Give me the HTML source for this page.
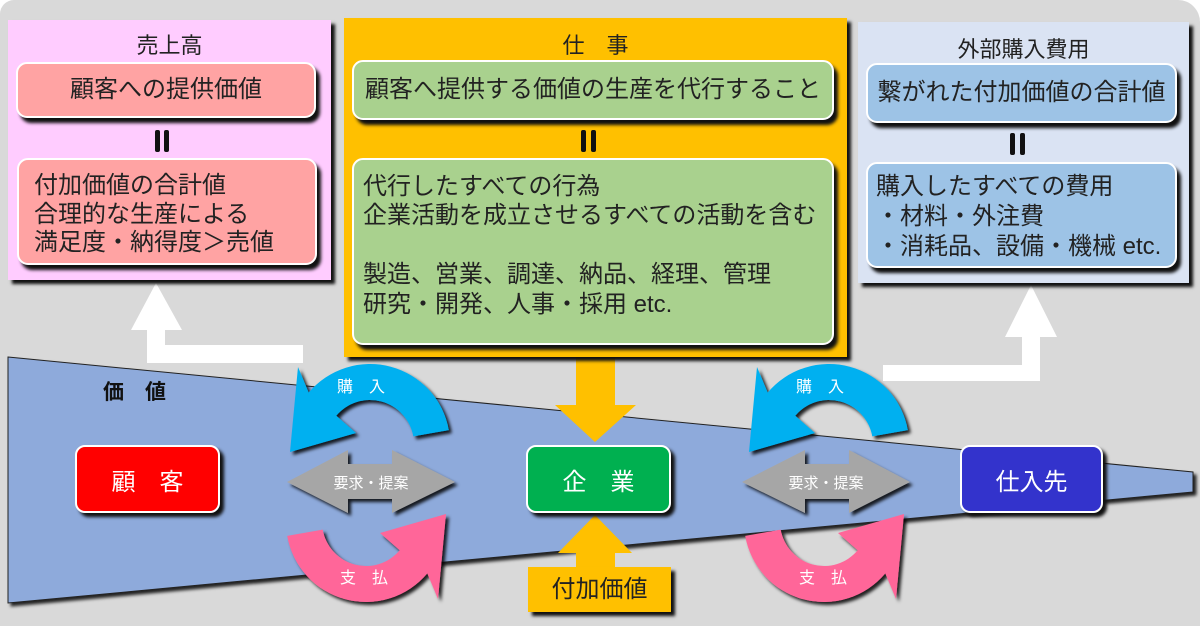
<!DOCTYPE html>
<html><head><meta charset="utf-8"><style>
body{margin:0;width:1200px;height:626px;overflow:hidden;background:#fff;font-family:"Liberation Sans","Noto Sans CJK JP",sans-serif;}
#bg{position:absolute;left:0;top:0;width:1200px;height:626px;background:#d9d9d9;border-top-right-radius:22px;border-top-left-radius:14px;}
.abs{position:absolute;}
.panel{position:absolute;box-shadow:4px 4px 3px #111;}
.title{position:absolute;left:0;right:0;text-align:center;font-size:22px;color:#222;}
.box{position:absolute;border:2px solid #fff;border-radius:11px;box-shadow:4px 5px 3px #111;box-sizing:border-box;color:#222;font-size:24px;}
.eq{position:absolute;width:5px;height:22px;background:#111;border-radius:2px;}
.line{position:absolute;white-space:nowrap;font-size:24px;line-height:28px;color:#222;}
.node{position:absolute;border:2px solid #fff;border-radius:10px;box-shadow:4px 4px 3px #111;box-sizing:border-box;color:#fff;font-size:24px;display:flex;align-items:center;justify-content:center;}
svg{position:absolute;left:0;top:0;}
</style></head><body>
<div id="bg"></div>
<svg width="1200" height="626">
<defs><filter id="sh" x="-20%" y="-20%" width="140%" height="140%"><feDropShadow dx="3" dy="3" stdDeviation="1.5" flood-color="#000" flood-opacity="0.85"/></filter></defs>
<polygon points="8,357 1193,472 1193,492 8,603" fill="#8eaadb" stroke="#222" stroke-width="1" filter="url(#sh)"/>
<polygon points="303,345 303,363 147,363 147,330 131,330 156,283 182,330 165,330 165,345" fill="#fff"/>
<polygon points="883,365 883,381 1040,381 1040,337 1057,337 1031,285 1005,337 1022,337 1022,365" fill="#fff"/>
<polygon points="576,355 615,355 615,405 636,405 595,442 555,405 576,405" fill="#ffc000"/>
<polygon points="576,570 615,570 615,553 632,553 595,515 558,553 576,553" fill="#ffc000"/>
<g fill="#a6a6a6" filter="url(#sh)">
<polygon points="287,482 348,450 348,464 392,464 392,450 455,482 392,513 392,499 348,499 348,513"/>
<polygon points="742,482 805,450 805,464 849,464 849,450 910,482 849,513 849,499 805,499 805,513"/>
</g>
<g filter="url(#sh)">
<path d="M448.8 430.1 A80 80 0 0 0 308.7 392.6 L298 367 L290 452 L356 433 L336.3 415.7 A44 44 0 0 1 413.3 436.4 Z" fill="#00b0f0"/>
<path d="M448.8 430.1 A80 80 0 0 0 308.7 392.6 L298 367 L290 452 L356 433 L336.3 415.7 A44 44 0 0 1 413.3 436.4 Z" fill="#00b0f0" transform="translate(459,0)"/>
<path d="M448.8 430.1 A80 80 0 0 0 308.7 392.6 L298 367 L290 452 L356 433 L336.3 415.7 A44 44 0 0 1 413.3 436.4 Z" fill="#ff6699" transform="rotate(180 368 483)"/>
<path d="M448.8 430.1 A80 80 0 0 0 308.7 392.6 L298 367 L290 452 L356 433 L336.3 415.7 A44 44 0 0 1 413.3 436.4 Z" fill="#ff6699" transform="translate(458,0) rotate(180 368 483)"/>
</g>
<g fill="#fff" font-size="16" font-family="Liberation Sans,Noto Sans CJK JP,sans-serif">
<text x="337" y="392">購　入</text>
<text x="796" y="392">購　入</text>
<text x="340" y="583">支　払</text>
<text x="799" y="583">支　払</text>
<text x="371" y="488" text-anchor="middle" font-size="15">要求・提案</text>
<text x="826" y="488" text-anchor="middle" font-size="15">要求・提案</text>
</g>
<text x="103" y="399" font-size="21" font-weight="bold" fill="#111" font-family="Liberation Sans,Noto Sans CJK JP,sans-serif">価　値</text>
</svg>

<div class="panel" style="left:8px;top:20px;width:323px;height:260px;background:#ffccff;">
<div class="title" style="top:8px;">売上高</div>
</div>
<div class="box" style="left:16px;top:62px;width:300px;height:56px;background:#ffa3a3;text-align:center;line-height:52px;">顧客への提供価値</div>
<div class="eq" style="left:155px;top:130px;"></div><div class="eq" style="left:164px;top:130px;"></div>
<div class="box" style="left:17px;top:158px;width:300px;height:107px;background:#ffa3a3;"></div>
<div class="line" style="left:34px;top:172px;">付加価値の合計値</div>
<div class="line" style="left:34px;top:201px;">合理的な生産による</div>
<div class="line" style="left:34px;top:229px;">満足度・納得度＞売値</div>

<div class="panel" style="left:344px;top:18px;width:503px;height:339px;background:#ffc000;">
<div class="title" style="top:10px;">仕　事</div>
</div>
<div class="box" style="left:352px;top:60px;width:482px;height:60px;background:#a9d18e;text-align:center;line-height:56px;">顧客へ提供する価値の生産を代行すること</div>
<div class="eq" style="left:581px;top:130px;"></div><div class="eq" style="left:591px;top:130px;"></div>
<div class="box" style="left:352px;top:158px;width:482px;height:187px;background:#a9d18e;"></div>
<div class="line" style="left:363px;top:173px;">代行したすべての行為</div>
<div class="line" style="left:363px;top:202px;">企業活動を成立させるすべての活動を含む</div>
<div class="line" style="left:363px;top:261px;">製造、営業、調達、納品、経理、管理</div>
<div class="line" style="left:363px;top:291px;">研究・開発、人事・採用 etc.</div>

<div class="panel" style="left:858px;top:22px;width:331px;height:261px;background:#dae3f3;">
<div class="title" style="top:10px;">外部購入費用</div>
</div>
<div class="box" style="left:866px;top:63px;width:311px;height:60px;background:#9dc3e6;text-align:center;line-height:56px;">繋がれた付加価値の合計値</div>
<div class="eq" style="left:1010px;top:133px;"></div><div class="eq" style="left:1020px;top:133px;"></div>
<div class="box" style="left:866px;top:162px;width:311px;height:106px;background:#9dc3e6;"></div>
<div class="line" style="left:876px;top:173px;">購入したすべての費用</div>
<div class="line" style="left:876px;top:203px;">・材料・外注費</div>
<div class="line" style="left:876px;top:233px;">・消耗品、設備・機械 etc.</div>

<div class="node" style="left:75px;top:445px;width:145px;height:68px;background:#ff0000;">顧　客</div>
<div class="node" style="left:526px;top:445px;width:145px;height:68px;background:#00b050;">企　業</div>
<div class="node" style="left:960px;top:445px;width:143px;height:68px;background:#3333cc;">仕入先</div>
<div class="abs" style="left:528px;top:567px;width:143px;height:45px;background:#ffc000;box-shadow:4px 4px 3px #111;font-size:24px;color:#222;text-align:center;line-height:45px;">付加価値</div>
</body></html>
